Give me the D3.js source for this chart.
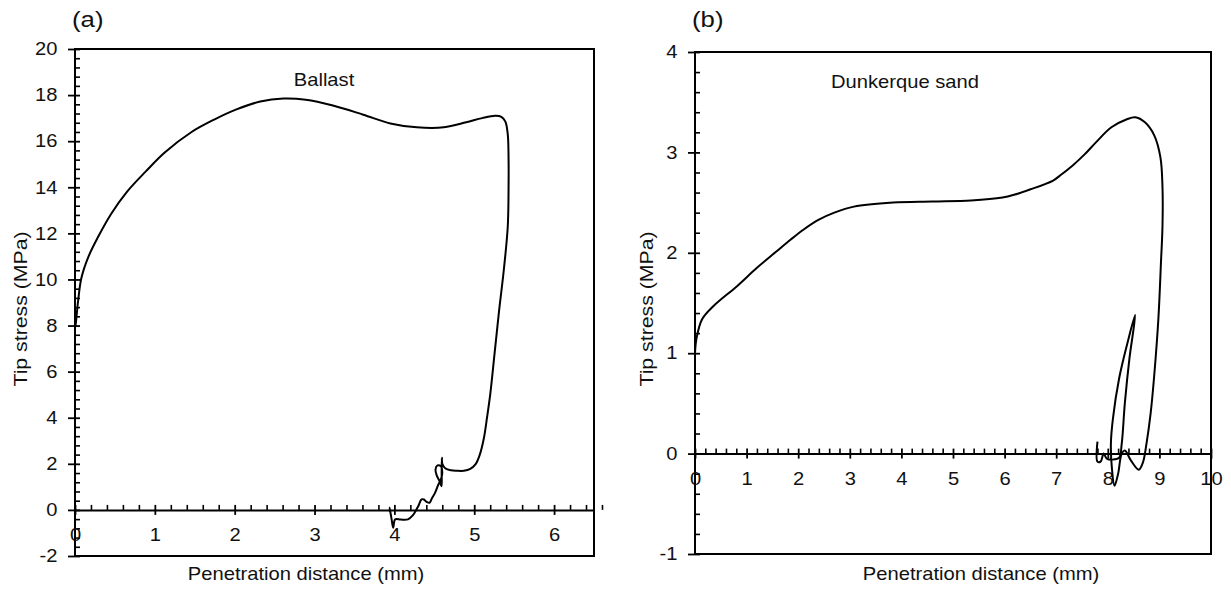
<!DOCTYPE html>
<html lang="en">
  <head>
    <meta charset="utf-8">
    <title>Tip stress vs penetration distance</title>
    <script type="text/javascript" src="https://cdn.jsdelivr.net/npm/d3@7"></script>
    <style>
      body { margin: 0; background: #fff; }
      text { font-family: "Liberation Sans", Arial, sans-serif; fill: #111; }
    </style>
  </head>
  <body>
    <script type="text/javascript">
      // Data
      var ballastX = [0, 0.01, 0.04, 0.08, 0.17, 0.29, 0.45, 0.65, 0.89, 1.12, 1.46, 1.75, 2.03, 2.32, 2.61, 2.89,
                      3.23, 3.61, 3.95, 4.28, 4.62, 4.9, 5.1, 5.26, 5.34, 5.39, 5.42, 5.43, 5.43, 5.42, 5.37, 5.31, 5.25,
                      5.2, 5.16, 5.12, 5.07, 5.02, 4.95, 4.87, 4.78, 4.71, 4.64, 4.6, 4.595, 4.592, 4.59, 4.565, 4.53,
                      4.515, 4.54, 4.58, 4.6, 4.58, 4.55, 4.51, 4.47, 4.44, 4.4, 4.37, 4.34, 4.3, 4.23, 4.17, 4.08,
                      4.01, 3.985, 3.965, 3.94, 3.945];
      var ballastY = [7.9, 8.1, 9.1, 10.06, 11.0, 11.85, 12.83, 13.8, 14.7, 15.5, 16.4, 16.95, 17.39, 17.72, 17.85, 17.8,
                      17.55, 17.15, 16.77, 16.6, 16.6, 16.82, 17.0, 17.1, 17.06, 16.85, 16.3, 15.2, 14.0, 12.3, 10.4, 8.6, 6.63,
                      5.0, 4.0, 3.1, 2.4, 2.0, 1.78, 1.7, 1.7, 1.72, 1.8, 2.0, 2.26, 1.6, 1.03, 1.25, 1.5,
                      1.75, 1.93, 1.9, 1.6, 1.3, 1.1, 0.75, 0.5, 0.31, 0.36, 0.45, 0.46, 0.17, -0.24, -0.41, -0.42,
                      -0.41, -0.77, -0.4, 0.1, -0.1];

      var sandX = [0, 0.03, 0.14, 0.36, 0.82, 1.2, 1.57, 1.85, 2.1, 2.4, 2.7, 3.08, 3.84, 4.6, 5.35, 5.96, 6.2,
                   6.49, 6.94, 7.1, 7.32, 7.55, 7.77, 8.07, 8.37, 8.53, 8.72, 8.9, 9.02, 9.06, 9.06, 9.03, 8.98,
                   8.9, 8.83, 8.75, 8.68, 8.6, 8.45, 8.33, 8.27, 8.2, 8.13, 8.08, 8.06, 8.1, 8.22, 8.38, 8.53,
                   8.42, 8.33, 8.27, 8.22, 8.1, 7.98, 7.92, 7.86, 7.8, 7.8];
      var sandY = [1.0, 1.15, 1.34, 1.47, 1.67, 1.85, 2.01, 2.13, 2.23, 2.33, 2.4, 2.46, 2.5, 2.51, 2.52, 2.55, 2.58,
                   2.63, 2.72, 2.78, 2.87, 2.98, 3.1, 3.25, 3.33, 3.35, 3.3, 3.17, 2.95, 2.65, 2.27, 1.9, 1.34,
                   0.78, 0.4, 0.1, -0.09, -0.16, -0.07, 0.03, 0.0, -0.2, -0.32, -0.15, 0.1, 0.35, 0.75, 1.1, 1.38,
                   0.95, 0.5, 0.1, -0.04, -0.06, -0.05, 0.0, -0.08, -0.08, 0.12];

      var ballastXTicks = [0, 1, 2, 3, 4, 5, 6];
      var ballastYTicks = [-2, 0, 2, 4, 6, 8, 10, 12, 14, 16, 18, 20];
      var sandXTicks = [0, 1, 2, 3, 4, 5, 6, 7, 8, 9, 10];
      var sandYTicks = [-1, 0, 1, 2, 3, 4];

      var stretch = 1.12; // source glyphs look horizontally stretched
      var ink = "#111";

      var svg = d3.select("body").append("svg")
                  .attr("width", 1231)
                  .attr("height", 590);

      var panels = [
        {tag: "(a)", name: "Ballast", xs: ballastX, ys: ballastY,
         xDomain: [0, 6.5], yDomain: [-2, 20], xRange: [75, 594], yRange: [556, 49],
         xTicks: ballastXTicks, yTicks: ballastYTicks, xMinor: 0.2, yMinor: 0.4,
         nameX: 324, nameY: 86, titleX: 20, xTitleX: 306},
        {tag: "(b)", name: "Dunkerque sand", xs: sandX, ys: sandY,
         xDomain: [0, 10], yDomain: [-1, 4], xRange: [695, 1211], yRange: [554, 52],
         xTicks: sandXTicks, yTicks: sandYTicks, xMinor: 0.2, yMinor: 0.2,
         nameX: 905, nameY: 88, titleX: 646, xTitleX: 981}
      ];

      var minorTicks = function(domain, step, majors){
        var out = [];
        var n = Math.round((domain[1] - domain[0]) / step);
        for (var i = 0; i <= n; i++) {
          var v = +(domain[0] + i * step).toFixed(4);
          if (majors.indexOf(v) < 0) out.push(v);
        }
        return out;
      };
      var fmt = function(d){ return String(d); };

      panels.forEach(function(p){
        var x = d3.scaleLinear().domain(p.xDomain).range(p.xRange);
        var y = d3.scaleLinear().domain(p.yDomain).range(p.yRange);
        var g = svg.append("g");
        var x0 = p.xRange[0], x1 = p.xRange[1], y0 = p.yRange[1], y1 = p.yRange[0];

        // Frame
        g.append("rect")
          .attr("x", x0)
          .attr("y", y0)
          .attr("width", x1 - x0)
          .attr("height", y1 - y0)
          .style("fill", "none")
          .style("stroke", "#000")
          .style("stroke-width", "2px");

        // Y axis (major ticks cross the line, minor ticks point inward)
        var yAxis = g.append("g")
          .attr("transform", "translate(" + x0 + ",0)")
          .call(d3.axisLeft(y).tickValues(p.yTicks).tickFormat(fmt).tickSize(6).tickSizeOuter(0));
        yAxis.select(".domain").remove();
        yAxis.selectAll(".tick line").attr("x2", 5).attr("x1", -7)
          .attr("stroke", "#000").attr("stroke-width", 1.8);
        yAxis.selectAll(".tick text")
          .attr("x", -17.5 / stretch)
          .attr("transform", "scale(" + stretch + ",1)")
          .attr("font-size", 18)
          .attr("font-family", "Liberation Sans, Arial, sans-serif")
          .attr("fill", ink);

        var yMinorAxis = g.append("g")
          .attr("transform", "translate(" + x0 + ",0)")
          .call(d3.axisRight(y).tickValues(minorTicks(p.yDomain, p.yMinor, p.yTicks)).tickSize(5).tickFormat(""));
        yMinorAxis.select(".domain").remove();
        yMinorAxis.selectAll(".tick line").attr("stroke", "#000").attr("stroke-width", 1.6);

        // X axis drawn along y = 0
        var xAxis = g.append("g")
          .attr("transform", "translate(0," + y(0) + ")")
          .call(d3.axisBottom(x).tickValues(p.xTicks).tickFormat(fmt).tickSize(5).tickSizeOuter(0));
        xAxis.select(".domain").attr("stroke", "#000").attr("stroke-width", 2);
        xAxis.selectAll(".tick line").attr("y1", -5).attr("y2", 5)
          .attr("stroke", "#000").attr("stroke-width", 1.8);
        xAxis.selectAll(".tick text")
          .attr("y", 31).attr("dy", 0)
          .attr("transform", "scale(" + stretch + ",1)")
          .attr("font-size", 18)
          .attr("font-family", "Liberation Sans, Arial, sans-serif")
          .attr("fill", ink);

        var xMinorAxis = g.append("g")
          .attr("transform", "translate(0," + y(0) + ")")
          .call(d3.axisTop(x).tickValues(minorTicks(p.xDomain, p.xMinor, p.xTicks)).tickSize(5).tickFormat(""));
        xMinorAxis.select(".domain").remove();
        xMinorAxis.selectAll(".tick line").attr("stroke", "#000").attr("stroke-width", 1.6);

        // Curve
        var pts = p.xs.map(function(d, i){ return [d, p.ys[i]]; });
        var line = d3.line()
          .x(function(d){ return x(d[0]); })
          .y(function(d){ return y(d[1]); })
          .curve(d3.curveCatmullRom.alpha(0.5));
        g.append("path")
          .datum(pts)
          .attr("d", line)
          .attr("fill", "none")
          .attr("stroke", "#000")
          .attr("stroke-width", 2)
          .attr("stroke-linejoin", "round");

        // Texts
        g.append("text")
          .attr("transform", "translate(" + (x0 - 3) + ",27) scale(" + stretch + ",1)")
          .attr("font-size", 23)
          .text(p.tag);

        g.append("text")
          .attr("transform", "translate(" + p.nameX + "," + p.nameY + ") scale(" + stretch + ",1)")
          .attr("text-anchor", "middle")
          .attr("font-size", 18)
          .text(p.name);

        g.append("text")
          .attr("transform", "translate(" + p.titleX + ",309) rotate(-90) scale(" + stretch + ",1)")
          .attr("text-anchor", "middle")
          .attr("dy", "0.35em")
          .attr("font-size", 19)
          .text("Tip stress (MPa)");

        g.append("text")
          .attr("transform", "translate(" + p.xTitleX + ",580) scale(" + stretch + ",1)")
          .attr("text-anchor", "middle")
          .attr("font-size", 18)
          .text("Penetration distance (mm)");
      });
    </script>
  </body>
</html>
